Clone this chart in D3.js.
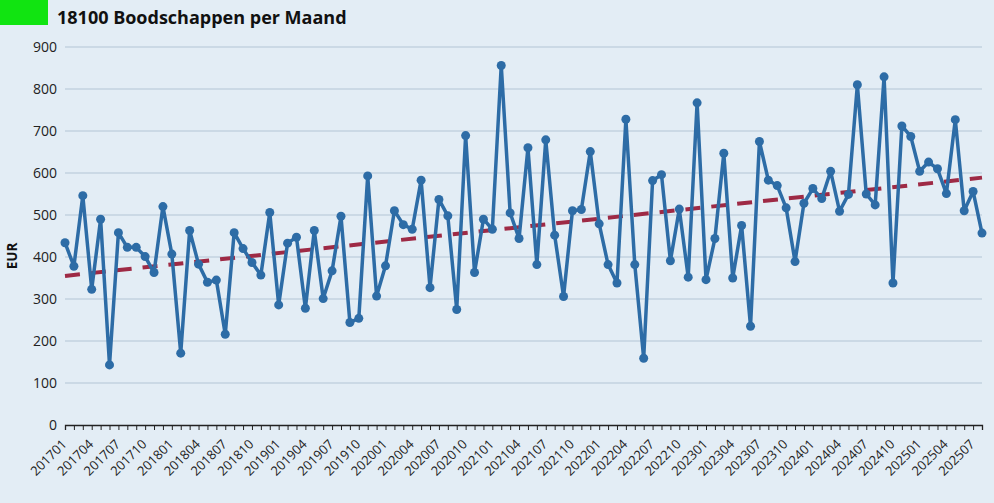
<!DOCTYPE html>
<html><head><meta charset="utf-8">
<script src="https://cdn.jsdelivr.net/npm/d3@7"></script>
<style>
html,body{margin:0;padding:0;background:#e3edf5;}
svg{display:block;font-family:"Open Sans",sans-serif;}
</style></head><body>
<svg id="c" width="994" height="503"></svg>
<script>
const title = "18100 Boodschappen per Maand";
const yLabel = "EUR";
const yTicks = [0,100,200,300,400,500,600,700,800,900];
const months = [];
for (let y = 2017; y <= 2025; y++) for (let m = 1; m <= 12; m++) {
  if (y === 2025 && m > 8) break;
  months.push(String(y) + String(m).padStart(2,"0"));
}
const values = [
  434,378,546,323,490,143,458,423,423,401,363,520,
  407,171,463,383,340,345,216,458,420,387,357,506,
  286,433,447,278,463,301,367,497,244,254,593,307,
  379,510,477,466,583,327,537,498,275,689,363,490,
  466,856,505,444,660,382,679,452,306,510,513,651,
  479,382,338,728,382,159,582,596,391,514,352,767,
  346,444,647,350,475,235,675,583,570,517,389,528,
  563,539,604,509,549,810,550,524,829,338,712,687,
  604,626,610,551,727,510,556,457
];
const trendEnds = [355, 589];

const svg = d3.select("#c");
const m = {l:65, r:12, t:47, b:78};
const W = 994, H = 503;
const x = d3.scalePoint().domain(months).range([m.l, W - m.r]);
const y = d3.scaleLinear().domain([0,900]).range([H - m.b, m.t]);

// title block
svg.append("rect").attr("x",0).attr("y",0).attr("width",48).attr("height",25).attr("fill","#11e411");
svg.append("text").attr("x",57).attr("y",24).attr("font-size",18).attr("font-weight","bold")
  .attr("fill","#111").text(title);

// grid
svg.append("g").selectAll("line").data(yTicks.slice(1)).join("line")
  .attr("x1",m.l).attr("x2",W-m.r).attr("y1",d=>y(d)).attr("y2",d=>y(d))
  .attr("stroke","#b3c6d5").attr("stroke-width",1.2);

// y axis labels
const ya = svg.append("g").attr("transform",`translate(${m.l},0)`)
  .call(d3.axisLeft(y).tickValues(yTicks).tickSize(0).tickPadding(8));
ya.select(".domain").remove();
ya.selectAll("text").attr("font-size",14).attr("fill","#222").attr("font-family","Open Sans");

svg.append("text").attr("transform",`translate(17,256) rotate(-90)`)
  .attr("text-anchor","middle").attr("font-size",13.5).attr("font-weight","bold").attr("fill","#111").text(yLabel);

// x axis
const xa = svg.append("g").attr("transform",`translate(0,${y(0)})`)
  .call(d3.axisBottom(x).tickSize(5).tickFormat((d,i)=> i%3===0 ? d : ""));
xa.select(".domain").attr("stroke","#222").attr("stroke-width",1.3);
xa.selectAll(".tick line").attr("stroke","#222");
xa.selectAll("text").attr("font-size",13).attr("fill","#222").attr("font-family","Open Sans")
  .attr("text-anchor","end").attr("x",0).attr("y",0).attr("dx",0).attr("dy",0)
  .attr("transform","translate(2,20) rotate(-45)");

// trend
svg.append("line")
  .attr("x1",x(months[0])).attr("x2",x(months[months.length-1]))
  .attr("y1",y(trendEnds[0])).attr("y2",y(trendEnds[1]))
  .attr("stroke","#9e2a45").attr("stroke-width",4).attr("stroke-dasharray","15,11");

// line
const line = d3.line().x((d,i)=>x(months[i])).y(d=>y(d));
svg.append("path").datum(values).attr("d",line).attr("fill","none")
  .attr("stroke","#2d6ca6").attr("stroke-width",3.5).attr("stroke-linejoin","round");
svg.append("g").selectAll("circle").data(values).join("circle")
  .attr("cx",(d,i)=>x(months[i])).attr("cy",d=>y(d)).attr("r",4.5).attr("fill","#2d6ca6");
</script>
</body></html>
